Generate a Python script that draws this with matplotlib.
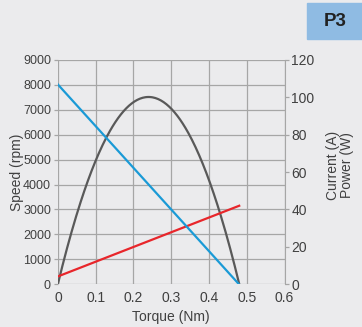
import numpy as np
import matplotlib.pyplot as plt

plt.rcParams['font.family'] = ['Liberation Sans', 'DejaVu Sans']

# torque axis (Nm)
torque_lin = [0.0, 0.48]
speed = [8000, 0]          # rpm
current = [4.3, 42]        # A

torque_pw = [0.0, 0.04, 0.08, 0.12, 0.16, 0.20, 0.24, 0.28, 0.32, 0.36, 0.40, 0.44, 0.48]
power = [0, 31, 56, 75, 89, 97, 100, 97, 89, 75, 56, 31, 0]   # W

x_ticks = [0, 0.1, 0.2, 0.3, 0.4, 0.5, 0.6]
x_labels = ["0", "0.1", "0.2", "0.3", "0.4", "0.5", "0.6"]
speed_ticks = list(range(0, 9001, 1000))
right_ticks = list(range(0, 121, 20))

bg = "#ebebed"
gridc = "#a6a6a6"
txt = "#404040"

fig = plt.figure(figsize=(3.62, 3.27), dpi=100, facecolor=bg)
ax = fig.add_axes([0.160, 0.130, 0.626, 0.688])
ax.set_facecolor(bg)
ax2 = ax.twinx()

# smooth power curve through read points
tp = np.linspace(0, 0.48, 200)
coef = np.polyfit(torque_pw, power, 2)
ax2.plot(tp, np.polyval(coef, tp), color="#595959", lw=1.6, zorder=3)
ax2.plot(torque_lin, current, color="#e8262b", lw=1.6, zorder=3)
ax.plot(torque_lin, speed, color="#1a9ad6", lw=1.6, zorder=3)
ax.set_zorder(ax2.get_zorder() + 1)
ax.patch.set_visible(False)
ax2.patch.set_visible(True)
ax2.patch.set_facecolor(bg)

ax.set_xlim(0, 0.6)
ax.set_ylim(0, 9000)
ax2.set_ylim(0, 120)
ax.set_xticks(x_ticks)
ax.set_xticklabels(x_labels)
ax.set_yticks(speed_ticks)
ax2.set_yticks(right_ticks)

ax2.grid(False)
for v in speed_ticks:
    ax2.axhline(v / 75.0, color=gridc, lw=0.9, zorder=1)
for v in x_ticks:
    ax2.axvline(v, color=gridc, lw=0.9, zorder=1)

for a in (ax, ax2):
    for s in a.spines.values():
        s.set_visible(False)
    a.tick_params(colors=gridc, labelcolor=txt, labelsize=9, length=3, width=0.9, pad=2)
ax.tick_params(axis='x', length=0, pad=5, labelsize=10)
ax2.tick_params(axis='y', labelsize=10)
ax2.spines['right'].set_visible(True)
ax2.spines['right'].set_color(gridc)

ax.set_xlabel("Torque (Nm)", color=txt, fontsize=10, labelpad=3)
ax.set_ylabel("Speed (rpm)", color=txt, fontsize=10)
ax.yaxis.set_label_coords(-0.15, 0.5)
ax2.set_ylabel("Current (A)\nPower (W)", color=txt, fontsize=10, rotation=90,
               linespacing=0.95)
ax2.yaxis.set_label_coords(1.185, 0.53)

# P3 badge
fig.patches.append(plt.Rectangle((307 / 362, 1 - 39 / 327), 55 / 362, 36 / 327,
                                 transform=fig.transFigure, color="#8fbbe3", zorder=0))
fig.text(335 / 362, 1 - 22 / 327, "P3", ha="center", va="center", fontsize=13.5,
         fontweight="bold", color="#222222")

fig.savefig("out.png", dpi=100, facecolor=bg)
